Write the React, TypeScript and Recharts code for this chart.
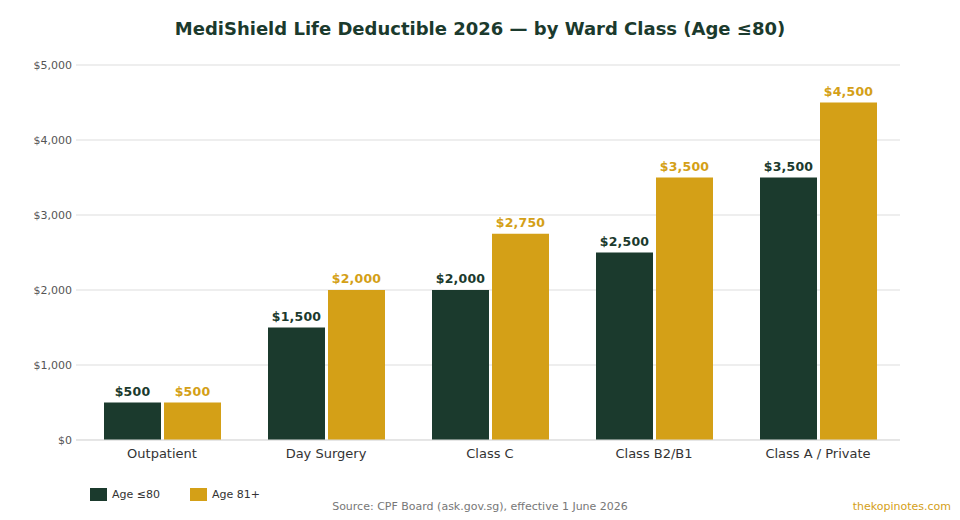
import React from "react";
import { BarChart, Bar, XAxis, YAxis, CartesianGrid, LabelList } from "recharts";

const categories = ["Outpatient", "Day Surgery", "Class C", "Class B2/B1", "Class A / Private"];
const ageUpTo80 = [500, 1500, 2000, 2500, 3500];
const age81Plus = [500, 2000, 2750, 3500, 4500];
const yTicks = [0, 1000, 2000, 3000, 4000, 5000];
const seriesNames = ["Age \u226480", "Age 81+"];

const DARK = "#1b3a2d";
const GOLD = "#d4a017";
const FONT = "'DejaVu Sans', sans-serif";

const data = categories.map((c, i) => ({ name: c, a: ageUpTo80[i], b: age81Plus[i] }));

const money = (v: number) => "$" + v.toLocaleString("en-US");

export default function App() {
  return (
    <div style={{ position: "absolute", left: 0, top: 0, width: 960, height: 520, background: "#fff", fontFamily: FONT }}>
      <div
        style={{
          position: "absolute",
          top: 17,
          left: 0,
          width: 960,
          textAlign: "center",
          fontSize: 18,
          fontWeight: "bold",
          color: DARK,
          lineHeight: "24px",
        }}
      >
        MediShield Life Deductible 2026 — by Ward Class (Age ≤80)
      </div>
      <div style={{ position: "absolute", left: 0, top: 0 }}>
        <BarChart
          width={960}
          height={520}
          data={data}
          margin={{ top: 65, right: 60, bottom: 50, left: 0 }}
          barSize={57}
          barGap={3}
        >
          <CartesianGrid vertical={false} stroke="#dddddd" />
          <XAxis
            dataKey="name"
            padding={{ left: 4, right: 0 }}
            axisLine={{ stroke: "#dddddd" }}
            tickLine={false}
            tickSize={0}
            tickMargin={9}
            height={30}
            tick={{ fontSize: 13, fill: "#333", fontFamily: FONT }}
            interval={0}
          />
          <YAxis
            width={76}
            domain={[0, 5000]}
            ticks={yTicks}
            tickFormatter={money}
            axisLine={false}
            tickLine={false}
            tickSize={0}
            tickMargin={4}
            tick={{ fontSize: 11, fill: "#555", fontFamily: FONT }}
          />
          <Bar dataKey="a" fill={DARK} isAnimationActive={false}>
            <LabelList
              dataKey="a"
              position="top"
              offset={7}
              formatter={(v: any) => money(Number(v))}
              style={{ fontSize: 12.5, fontWeight: "bold", fill: DARK, fontFamily: FONT, letterSpacing: 0.2 }}
            />
          </Bar>
          <Bar dataKey="b" fill={GOLD} isAnimationActive={false}>
            <LabelList
              dataKey="b"
              position="top"
              offset={7}
              formatter={(v: any) => money(Number(v))}
              style={{ fontSize: 12.5, fontWeight: "bold", fill: GOLD, fontFamily: FONT, letterSpacing: 0.2 }}
            />
          </Bar>
        </BarChart>
      </div>
      <div style={{ position: "absolute", left: 90, top: 488, width: 17, height: 13, background: DARK }} />
      <div style={{ position: "absolute", left: 112, top: 487, fontSize: 11, color: "#333", lineHeight: "15px" }}>
        {seriesNames[0]}
      </div>
      <div style={{ position: "absolute", left: 190, top: 488, width: 17, height: 13, background: GOLD }} />
      <div style={{ position: "absolute", left: 212, top: 487, fontSize: 11, color: "#333", lineHeight: "15px" }}>
        {seriesNames[1]}
      </div>
      <div
        style={{
          position: "absolute",
          left: 0,
          width: 960,
          top: 499,
          textAlign: "center",
          fontSize: 11,
          color: "#777",
          lineHeight: "15px",
        }}
      >
        Source: CPF Board (ask.gov.sg), effective 1 June 2026
      </div>
      <div
        style={{
          position: "absolute",
          right: 9,
          top: 499,
          fontSize: 11,
          color: GOLD,
          lineHeight: "15px",
        }}
      >
        thekopinotes.com
      </div>
    </div>
  );
}
